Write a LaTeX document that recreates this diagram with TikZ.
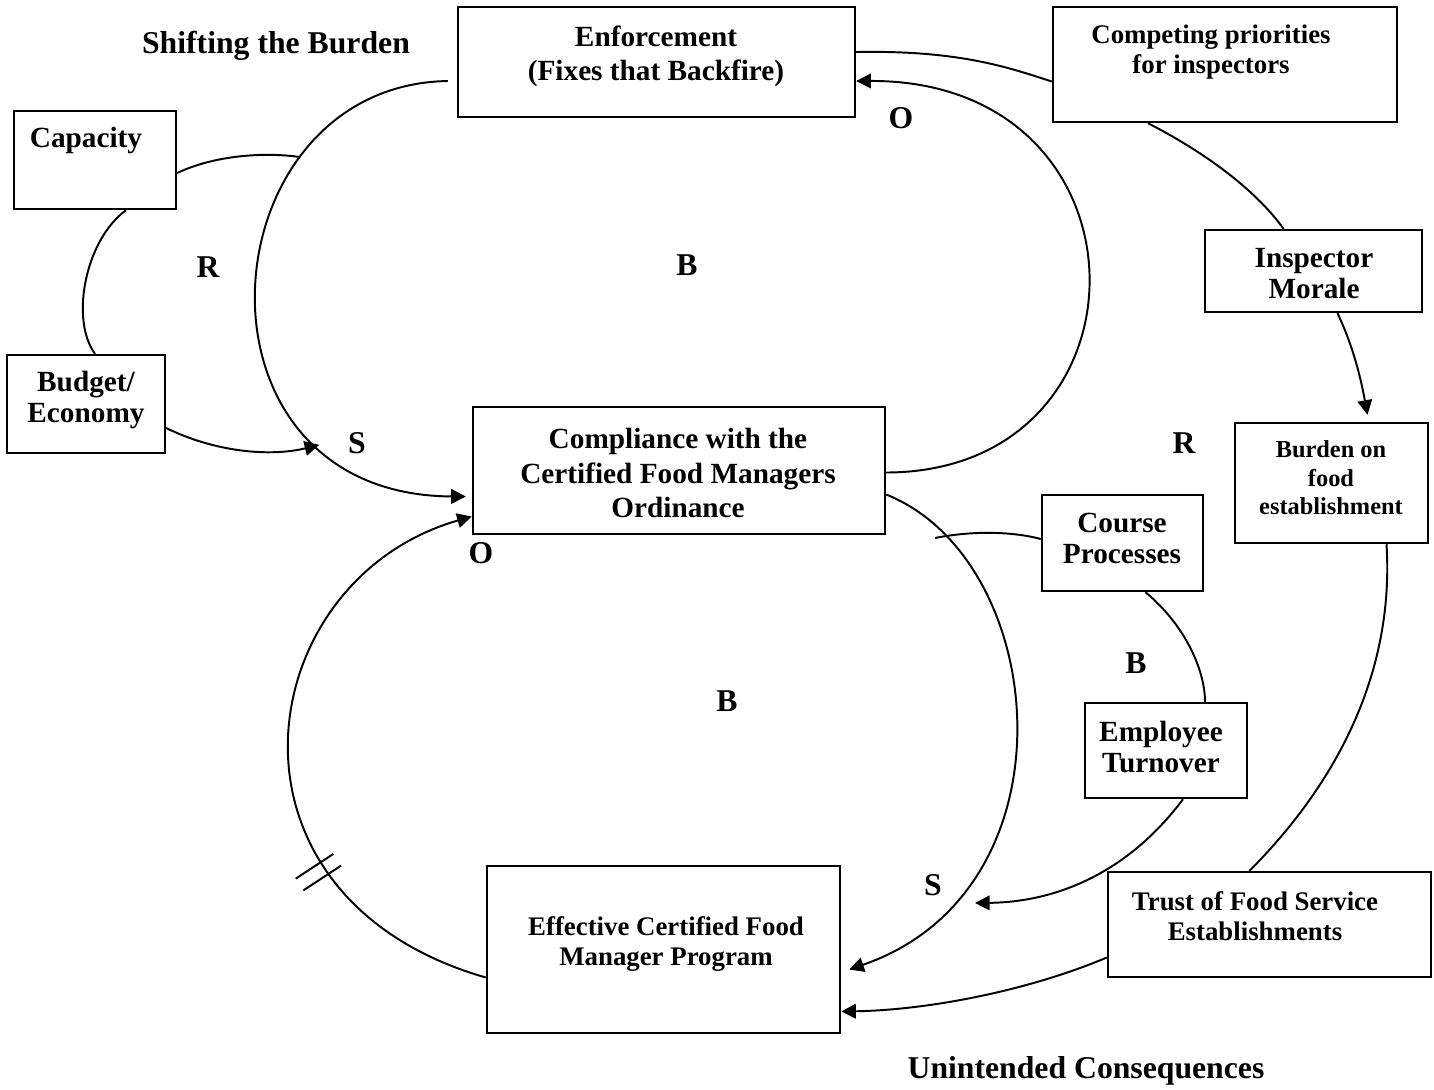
\documentclass[tikz,border=0pt]{standalone}
\usepackage{fontspec}
\setmainfont{Liberation Serif}
\usetikzlibrary{arrows.meta,calc,fit,decorations.markings}
\tikzset{
  box/.style={draw, line width=1pt, inner sep=0pt},
  txt/.style={align=center, font=\bfseries\fontsize{12}{12.7}\selectfont},
  bigtxt/.style={align=center, font=\bfseries\fontsize{12}{14.1}\selectfont},
  smalltxt/.style={align=center, font=\bfseries\fontsize{11}{12.5}\selectfont},
  tinytxt/.style={align=center, font=\bfseries\fontsize{10}{11.7}\selectfont},
  polarity/.style={font=\bfseries\fontsize{13}{15}\selectfont},
  heading/.style={font=\bfseries\fontsize{13}{15}\selectfont},
  link/.style={line width=0.8pt},
  arr/.style={link, -{Triangle[length=6pt,width=6pt]}}
}
\begin{document}
\begin{tikzpicture}[x=0.41pt, y=-0.41pt]
\useasboundingbox (0,0) rectangle (1434,1089);

\node[box, fit={(458,7) (855,117)}] (enf) {};
\node[box, fit={(14,111) (176,209)}] (capa) {};
\node[box, fit={(1053,7) (1397,122)}] (prio) {};
\node[box, fit={(1205,230) (1422,312)}] (moral) {};
\node[box, fit={(7,355) (165,453)}] (budg) {};
\node[box, fit={(473,407) (885,534)}] (cmp) {};
\node[box, fit={(1235,423) (1428,543)}] (burd) {};
\node[box, fit={(1042,495) (1203,591)}] (course) {};
\node[box, fit={(1085,703) (1247,798)}] (turn) {};
\node[box, fit={(1108,872) (1431,977)}] (trust) {};
\node[box, fit={(487,866) (840,1033)}] (prog) {};

\node[bigtxt] (enf-t) at (656,56) {Enforcement\\(Fixes that Backfire)};
\node[txt] (capa-t) at (86,140) {Capacity};
\node[smalltxt] (prio-t) at (1211,52) {Competing priorities\\for inspectors};
\node[txt] (moral-t) at (1314,274) {Inspector\\Morale};
\node[txt] (budg-t) at (86,400) {Budget/\\Economy};
\node[bigtxt] (cmp-t) at (678,473) {Compliance with the\\Certified Food Managers\\Ordinance};
\node[tinytxt] (burd-t) at (1331,478) {Burden on\\food\\establishment};
\node[txt] (course-t) at (1122,538) {Course\\Processes};
\node[txt] (turn-t) at (1161,747) {Employee\\Turnover};
\node[smalltxt] (trust-t) at (1255,916) {Trust of Food Service\\Establishments};
\node[smalltxt] (prog-t) at (666,944) {Effective Certified Food\\Manager Program};

\node[heading] (shift) at (276,46) {Shifting the Burden};
\node[heading] (unint) at (1086,1071) {Unintended Consequences};

\node[polarity] (r1) at (208,267) {R};
\node[polarity] (b1) at (687,265) {B};
\node[polarity] (o1) at (901,118) {O};
\node[polarity] (s1) at (357,443) {S};
\node[polarity] (r2) at (1184,443) {R};
\node[polarity] (o2) at (481,553) {O};
\node[polarity] (b2) at (1136,663) {B};
\node[polarity] (b3) at (727,701) {B};
\node[polarity] (s2) at (933,885) {S};

\draw[arr] ($(enf.west)+(-9,19)$) .. controls (205,85) and (175,495) .. coordinate[pos=0.27] (rjoin) coordinate[pos=0.78] (sjoin) ($(cmp.west)+(-6,26)$);
\draw[arr] ($(cmp.east)+(0,2)$) .. controls (1160,472) and (1160,80) .. ($(enf.east)+(0,19)$);
\draw[link] ($(enf.east)+(0,-10)$) .. controls (960,50) and (1010,68) .. ($(prio.west)+(0,17)$);
\draw[link] (rjoin) .. controls (265,152) and (215,155) .. ($(capa.east)+(0,13)$);
\draw[link] ($(capa.south)+(31,0)$) .. controls (85,240) and (70,320) .. ($(budg.north)+(9,0)$);
\draw[arr] ($(budg.east)+(0,24)$) .. controls (215,452) and (270,457) .. (sjoin);
\draw[link] ($(prio.south)+(-77,0)$) .. controls (1210,155) and (1258,193) .. ($(moral.north)+(-30,0)$);
\draw[arr] ($(moral.south)+(24,0)$) .. controls (1355,350) and (1362,385) .. ($(burd.north)+(36,-7)$);
\draw[link] ($(burd.south)+(55,0)$) .. controls (1395,680) and (1330,790) .. ($(trust.north)+(-20,0)$);
\draw[arr] ($(trust.west)+(0,33)$) .. controls (1030,990) and (930,1010) .. ($(prog.east)+(0,62)$);
\draw[arr] ($(cmp.east)+(0,24)$) .. controls (1050,560) and (1080,890) .. ($(prog.east)+(8,20)$);
\coordinate (crsl) at (935,538);
\draw[link] (crsl) .. controls (975,530) and (1015,532) .. ($(course.west)+(0,-4)$);
\draw[link] ($(course.south)+(23,0)$) .. controls (1185,625) and (1205,670) .. ($(turn.north)+(39,0)$);
\coordinate (stip) at (975,903);
\draw[arr] ($(turn.south)+(17,0)$) .. controls (1130,870) and (1060,902) .. (stip);
\draw[arr, postaction={decorate}, decoration={markings, mark=at position 0.31 with {\draw[link, -] (-7,-30) -- (-7,15) (7,-30) -- (7,15);}}] ($(prog.west)+(0,28)$) .. controls (203,896) and (250,580) .. ($(cmp.west)+(0,46)$);
\end{tikzpicture}
\end{document}
